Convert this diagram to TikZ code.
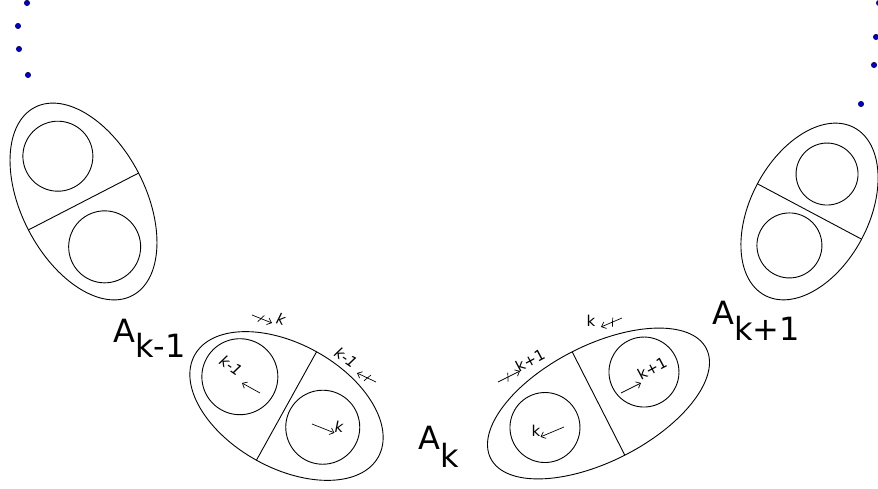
\documentclass[tikz,border=0pt]{standalone}
\usepackage{fontspec}
\setmainfont{DejaVu Sans}
\usepackage{tikz}
\usetikzlibrary{arrows.meta,calc}
\definecolor{chainblue}{RGB}{0,0,210}
\definecolor{chainrim}{RGB}{0,0,80}
\newcommand{\pairegg}[8]{%
  \begin{scope}[shift={#1},rotate=#2]
    \draw[eggline] (0,0) ellipse [x radius=#3pt,y radius=#4pt];
    \draw[eggline] (90:#3pt and #4pt) -- (270:#3pt and #4pt);
    \draw[eggline] #5 circle [radius=#7pt];
    \draw[eggline] #6 circle [radius=#8pt];
  \end{scope}%
}
\newcommand{\blockedarrow}[2]{%
  \draw[smallarrow] (#1) -- (#2);%
  \draw[smallline] ($(#1)!0.45!(#2)!4.5pt!65:(#2)$) -- ($(#1)!0.45!(#2)!4.5pt!-115:(#2)$);%
}

\begin{document}
\begin{tikzpicture}[x=1pt,y=1pt,
  eggline/.style={line width=0.9pt},
  smallline/.style={line width=0.7pt},
  smallarrow/.style={smallline,-{Straight Barb[length=4pt,width=7pt]}},
  tinyit/.style={inner sep=0,font=\fontsize{15}{17}\selectfont\itshape},
  tinyup/.style={inner sep=0,font=\fontsize{15}{17}\selectfont},
  bigname/.style={inner sep=0,anchor=base west,font=\fontsize{32}{38}\selectfont},
  chaindot/.style={fill=chainblue,draw=chainrim,line width=0.5pt}]
  \useasboundingbox (0,0) rectangle (878,489);
  % dots
  \foreach \dx/\dy in {27/486,18/463,19/440,28/414,879/486,876/452,874/424,861/385}
    \fill[chaindot] (\dx,\dy) circle [radius=2.7pt];
  % eggs
  \pairegg{(83.5,287.5)}{-62.7}{106}{62}{(-52,-2)}{(50,-2)}{35}{36}
  \pairegg{(286.5,83)}{-29}{105}{62}{(-55,3)}{(42,-1)}{38}{37}
  \pairegg{(598.5,85.5)}{27}{121}{58}{(-58.6,2.9)}{(54.8,7.4)}{35}{35}
  \pairegg{(809.5,277.5)}{62}{95}{59}{(41.3,2.1)}{(-39.4,1.8)}{31}{32.5}
  % names
  \node[bigname] (nprev) at (113,146) {A\raisebox{-0.45em}{k-1}};
  \node[bigname] (ncur) at (418,39) {A\raisebox{-0.55em}{k}};
  \node[bigname] (nnext) at (712,164) {A\raisebox{-0.5em}{k+1}};
  % left egg labels
  \node[tinyit,rotate=-15] (pk1) at (281,170) {k};
  \coordinate (pa1s) at (252,174); \coordinate (pa1e) at (272,166);
  \blockedarrow{pa1s}{pa1e}
  \node[tinyit,rotate=-35] (pk2) at (346,131) {k-1};
  \coordinate (pa2s) at (376,107); \coordinate (pa2e) at (357,116);
  \blockedarrow{pa2s}{pa2e}
  \node[tinyit,rotate=-35] (pk3) at (231,123) {k-1};
  \coordinate (pa3s) at (260,96); \coordinate (pa3e) at (242,106);
  \draw[smallarrow] (pa3s) -- (pa3e);
  \node[tinyit] (pk4) at (339,62) {k};
  \coordinate (pa4s) at (312,65);
  \draw[smallarrow] (pa4s) -- (pk4.south west);
  % right egg labels
  \node[tinyup,rotate=28] (ck1) at (530,129) {k+1};
  \coordinate (ca1s) at (498,107); \coordinate (ca1e) at (520,118);
  \blockedarrow{ca1s}{ca1e}
  \node[tinyup] (ck2) at (591,168) {k};
  \coordinate (ca2s) at (622,171); \coordinate (ca2e) at (601,162);
  \blockedarrow{ca2s}{ca2e}
  \node[tinyup] (ck3) at (536,58) {k};
  \coordinate (ca3s) at (564,62);
  \draw[smallarrow] (ca3s) -- (ck3.south east);
  \coordinate (ca4s) at (621,96); \coordinate (ca4e) at (641,106);
  \draw[smallarrow] (ca4s) -- (ca4e);
  \node[tinyup,rotate=28] (ck4) at (652,121) {k+1};
\end{tikzpicture}
\end{document}
